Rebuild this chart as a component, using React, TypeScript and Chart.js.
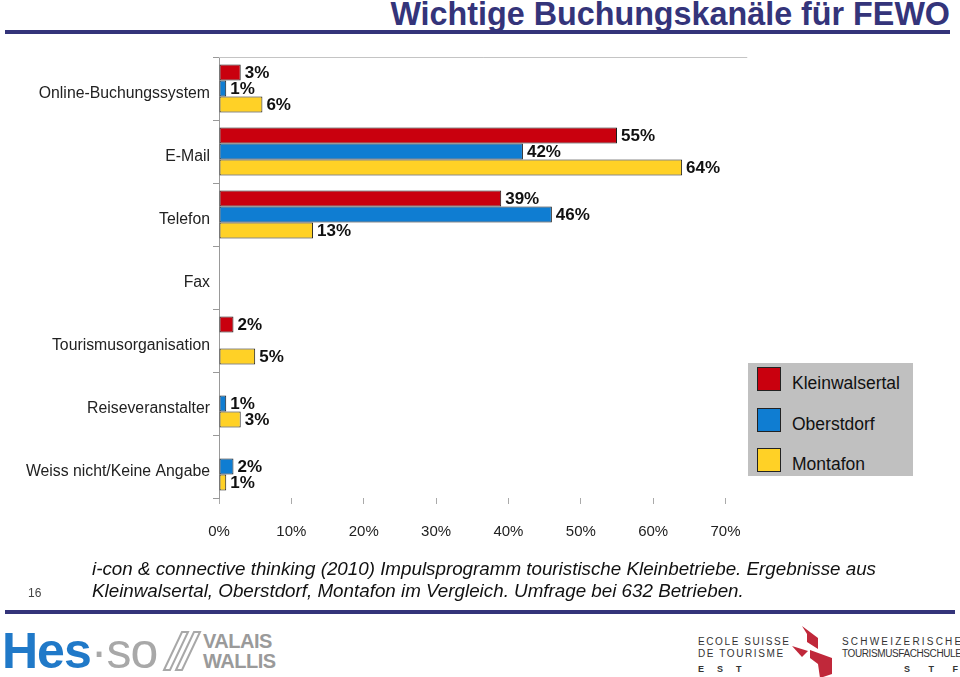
import React, { useEffect, useRef } from "react";
import { Chart, registerables } from "chart.js";

Chart.register(...registerables);

const TITLE = "Wichtige Buchungskanäle für FEWO";
const CATEGORIES = [
  "Online-Buchungssystem",
  "E-Mail",
  "Telefon",
  "Fax",
  "Tourismusorganisation",
  "Reiseveranstalter",
  "Weiss nicht/Keine Angabe",
];
const SERIES_NAMES = ["Kleinwalsertal", "Oberstdorf", "Montafon"];
const SERIES_COLORS = ["#C9000E", "#0F7DD2", "#FFD126"];
const KLEINWALSERTAL = [3, 55, 39, null, 2, null, null];
const OBERSTDORF = [1, 42, 46, null, null, 1, 2];
const MONTAFON = [6, 64, 13, null, 5, 3, 1];
const X_MAX = 73;
const X_TICKS = [0, 10, 20, 30, 40, 50, 60, 70];
const FOOTER_LINES = [
  "i-con & connective thinking (2010) Impulsprogramm touristische Kleinbetriebe. Ergebnisse aus",
  "Kleinwalsertal, Oberstdorf, Montafon im Vergleich. Umfrage bei 632 Betrieben.",
];
const PAGE_NUMBER = "16";

const FONT = "Arial, 'Liberation Sans', Helvetica, sans-serif";

const topLinePlugin = {
  id: "topLine",
  beforeDatasetsDraw(chart: any) {
    const { ctx, chartArea } = chart;
    ctx.save();
    ctx.strokeStyle = "#c4c4c4";
    ctx.lineWidth = 1;
    ctx.beginPath();
    ctx.moveTo(chartArea.left, chartArea.top + 0.5);
    ctx.lineTo(chartArea.right, chartArea.top + 0.5);
    ctx.stroke();
    ctx.restore();
  },
};

const valueLabelPlugin = {
  id: "valueLabels",
  afterDatasetsDraw(chart: any) {
    const { ctx } = chart;
    ctx.save();
    ctx.font = `bold 17px ${FONT}`;
    ctx.fillStyle = "#111";
    ctx.textAlign = "left";
    ctx.textBaseline = "middle";
    chart.data.datasets.forEach((ds: any, i: number) => {
      const meta = chart.getDatasetMeta(i);
      meta.data.forEach((bar: any, j: number) => {
        const v = ds.data[j];
        if (v === null || v === undefined) return;
        ctx.fillText(`${v}%`, bar.x + 4, bar.y + 1);
      });
    });
    ctx.restore();
  },
};

function ChartCanvas() {
  const ref = useRef<HTMLCanvasElement | null>(null);
  useEffect(() => {
    if (!ref.current) return;
    const seriesData = [KLEINWALSERTAL, OBERSTDORF, MONTAFON];
    const chart = new Chart(ref.current, {
      type: "bar",
      data: {
        labels: CATEGORIES,
        datasets: SERIES_NAMES.map((name, i) => ({
          label: name,
          data: seriesData[i] as any,
          backgroundColor: SERIES_COLORS[i],
          borderColor: "#1a1a1a",
          borderWidth: 1,
          borderSkipped: false,
          categoryPercentage: 0.76,
          barPercentage: 1,
        })),
      },
      options: {
        indexAxis: "y",
        responsive: false,
        animation: false,
        layout: { padding: { top: 57, right: 11, left: 0, bottom: 0 } },
        plugins: {
          legend: { display: false },
          tooltip: { enabled: false },
          title: { display: false },
        },
        scales: {
          x: {
            min: 0,
            max: X_MAX,
            afterBuildTicks: (scale: any) => {
              scale.ticks = X_TICKS.map((v) => ({ value: v }));
            },
            afterFit: (scale: any) => {
              scale.height = 62;
            },
            ticks: {
              callback: (v: any) => `${v}%`,
              color: "#222",
              font: { family: FONT, size: 15 },
              padding: 19,
              maxRotation: 0,
              autoSkip: false,
            },
            grid: {
              drawOnChartArea: false,
              drawTicks: true,
              tickLength: 6,
              color: "#aaa",
            },
            border: { display: false },
          },
          y: {
            afterFit: (scale: any) => {
              scale.width = 219;
            },
            ticks: {
              color: "#222",
              font: { family: FONT, size: 15.8 },
              padding: 3,
              labelOffset: 5,
            },
            grid: {
              drawOnChartArea: false,
              drawTicks: true,
              tickLength: 6,
              color: "#999",
              offset: true,
            },
            border: { display: true, color: "#999", width: 1 },
          },
        },
      },
      plugins: [topLinePlugin, valueLabelPlugin],
    });
    return () => chart.destroy();
  }, []);
  return (
    <canvas
      ref={ref}
      width={760}
      height={560}
      style={{ position: "absolute", left: 0, top: 0, width: 760, height: 560 }}
    />
  );
}

export default function App() {
  useEffect(() => {
    document.body.style.margin = "0";
  }, []);
  return (
    <div
      style={{
        position: "fixed",
        left: 0,
        top: 0,
        width: 960,
        height: 677,
        background: "#fff",
        overflow: "hidden",
        fontFamily: FONT,
      }}
    >
      <div
        style={{
          position: "absolute",
          right: 10,
          top: -2,
          fontSize: 32.3,
          lineHeight: "32px",
          fontWeight: "bold",
          color: "#34347a",
          whiteSpace: "nowrap",
        }}
      >
        {TITLE}
      </div>
      <div
        style={{
          position: "absolute",
          left: 5,
          top: 30,
          width: 945,
          height: 4,
          background: "#34347a",
        }}
      />
      <ChartCanvas />
      <div
        style={{
          position: "absolute",
          left: 748,
          top: 363,
          width: 165,
          height: 113,
          background: "#c0c0c0",
        }}
      >
        {SERIES_NAMES.map((name, i) => (
          <div
            key={name}
            style={{ position: "absolute", left: 9, top: 4 + i * 40.5, height: 24, display: "flex", alignItems: "center" }}
          >
            <div
              style={{
                width: 22,
                height: 22,
                background: SERIES_COLORS[i],
                border: "1px solid #222",
              }}
            />
            <div style={{ marginLeft: 11, marginTop: 9, fontSize: 17.5, color: "#111", whiteSpace: "nowrap" }}>{name}</div>
          </div>
        ))}
      </div>
      <div
        style={{
          position: "absolute",
          left: 92,
          top: 558,
          fontSize: 18.8,
          fontStyle: "italic",
          color: "#111",
          lineHeight: "22px",
          whiteSpace: "nowrap",
        }}
      >
        {FOOTER_LINES.map((l) => (
          <div key={l}>{l}</div>
        ))}
      </div>
      <div style={{ position: "absolute", left: 28, top: 586, fontSize: 12, color: "#444" }}>{PAGE_NUMBER}</div>
      <div
        style={{
          position: "absolute",
          left: 5,
          top: 610,
          width: 950,
          height: 4,
          background: "#34347a",
        }}
      />
      <div
        style={{
          position: "absolute",
          left: 2,
          top: 622,
          fontSize: 50,
          fontWeight: "bold",
          color: "#2079c8",
          letterSpacing: -1,
          whiteSpace: "nowrap",
        }}
      >
        Hes<span style={{ color: "#a8a8a8", fontWeight: "normal" }}>·so</span>
      </div>
      <svg style={{ position: "absolute", left: 160, top: 628 }} width={44} height={46}>
        <g fill="none" stroke="#a8a8a8" strokeWidth={2}>
          <path d="M4 42 L22 4 L28 4 L10 42 Z" />
          <path d="M16 42 L34 4 L40 4 L22 42 Z" />
        </g>
      </svg>
      <div
        style={{
          position: "absolute",
          left: 203,
          top: 631,
          fontSize: 20,
          fontWeight: "bold",
          color: "#9a9a9a",
          lineHeight: "20px",
          letterSpacing: -0.5,
        }}
      >
        <div>VALAIS</div>
        <div>WALLIS</div>
      </div>
      <div
        style={{
          position: "absolute",
          left: 698,
          top: 636,
          fontSize: 10,
          color: "#333",
          lineHeight: "12px",
          letterSpacing: 1.6,
          whiteSpace: "nowrap",
        }}
      >
        <div>ECOLE SUISSE</div>
        <div>DE TOURISME</div>
        <div style={{ marginTop: 3, letterSpacing: 13, fontWeight: "bold", fontSize: 9 }}>EST</div>
      </div>
      <svg style={{ position: "absolute", left: 790, top: 624 }} width={44} height={54}>
        <g fill="#c0283a">
          <polygon points="12,2 28,14 28,25 17,18 17,10" />
          <polygon points="2,22 18,27 12,33" />
          <polygon points="20,26 42,34 42,50 30,54 28,40 20,34" />
        </g>
      </svg>
      <div
        style={{
          position: "absolute",
          left: 842,
          top: 636,
          fontSize: 10,
          color: "#333",
          lineHeight: "12px",
          whiteSpace: "nowrap",
          width: 116,
        }}
      >
        <div style={{ letterSpacing: 2.2 }}>SCHWEIZERISCHE</div>
        <div style={{ letterSpacing: -0.4 }}>TOURISMUSFACHSCHULE</div>
        <div style={{ marginTop: 3, textAlign: "right", letterSpacing: 0, fontWeight: "bold", fontSize: 9, wordSpacing: 16 }}>S T F</div>
      </div>
    </div>
  );
}
